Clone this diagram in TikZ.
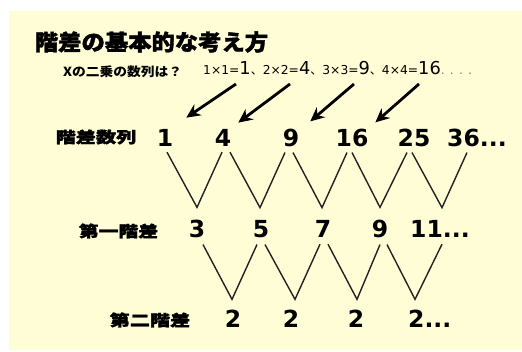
\documentclass[tikz,border=0pt]{standalone}
\usepackage{fontspec}
\usepackage{graphicx}
\newfontfamily\cjk{Noto Sans CJK JP}
\newfontfamily\cjkheavy{Noto Sans CJK JP}[BoldFeatures={FakeBold=1.6}]
\newfontfamily\dejavu{DejaVu Sans}
\usetikzlibrary{arrows.meta}
\definecolor{bgyellow}{HTML}{FFFDD6}
\definecolor{linegray}{HTML}{222222}
\newcommand{\resnum}[1]{{\fontsize{17.8}{17.8}\selectfont #1}}
\newcommand{\jten}{{\cjk\fontsize{12}{12}\selectfont 、}}
\begin{document}
\begin{tikzpicture}[x=1pt,y=-1pt,
  titletext/.style={inner sep=0pt,font=\cjkheavy\bfseries\fontsize{22}{22}\selectfont},
  rowlabel/.style={inner sep=0pt,font=\cjkheavy\bfseries\fontsize{15.5}{15.5}\selectfont},
  num/.style={inner sep=0pt,anchor=base,font=\dejavu\bfseries\fontsize{23.5}{23.5}\selectfont},
  numw/.style={num,anchor=base west},
  vline/.style={draw=linegray,line width=1.4pt},
  pointer/.style={draw=black,line width=2.8pt,-{Stealth[length=14pt,width=13pt]}}
]
\useasboundingbox (0,0) rectangle (522,352);
\fill[white] (0,0) rectangle (522,352);
\fill[bgyellow] (9,11) rectangle (522,350);

% title and question
\node[titletext] (title) at (151.5,42) {\scalebox{1.06}[1]{階差の基本的な考え方}};
\node[inner sep=0pt,anchor=base west,font=\cjk\bfseries\fontsize{12.5}{12.5}\selectfont] (question) at (63,77) {\scalebox{1.1}[1]{Xの二乗の数列は？}};
\node[inner sep=0pt,anchor=base west,font=\dejavu\fontsize{12.3}{12.3}\selectfont] (squares) at (203,75)
  {1×1=\resnum{1}\jten 2×2=\resnum{4}\jten 3×3=\resnum{9}\jten 4×4=\resnum{16}{\color{gray}. . . .}};

% row labels
\node[rowlabel] (r1) at (96,137) {\scalebox{1.3}[1]{階差数列}};
\node[rowlabel] (r2) at (118.5,231) {\scalebox{1.28}[1]{第一階差}};
\node[rowlabel] (r3) at (150,320) {\scalebox{1.3}[1]{第二階差}};

% row 1
\node[num] (n1) at (165,147) {1};
\node[num] (n2) at (223,147) {4};
\node[num] (n3) at (291,147) {9};
\node[num] (n4) at (352,147) {16};
\node[num] (n5) at (414,147) {25};
\node[numw] (n6) at (447,147) {36...};
% row 2
\node[num] (d1) at (197,238) {3};
\node[num] (d2) at (261,238) {5};
\node[num] (d3) at (323,238) {7};
\node[num] (d4) at (380,238) {9};
\node[numw] (d5) at (410,238) {11...};
% row 3
\node[num] (e1) at (233,328) {2};
\node[num] (e2) at (291,328) {2};
\node[num] (e3) at (356,328) {2};
\node[numw] (e4) at (408,328) {2...};

% arrows
\coordinate (s1) at (236,84);
\coordinate (s2) at (290,84);
\coordinate (s3) at (354,84);
\coordinate (s4) at (419,84);
\draw[pointer] (s1) -- ([shift={(12.9,-12)}]n1.north east);
\draw[pointer] (s2) -- ([shift={(6.9,-7)}]n2.north east);
\draw[pointer] (s3) -- ([shift={(10.9,-8)}]n3.north east);
\draw[pointer] (s4) -- ([shift={(6.8,-7)}]n4.north east);

% first differences
\draw[vline] ([shift={(2,5)}]n1.south) -- ([shift={(0,-13)}]d1.north) -- ([shift={(-1,5)}]n2.south);
\draw[vline] ([shift={(7,5)}]n2.south) -- ([shift={(-1,-13)}]d2.north) -- ([shift={(-6,5)}]n3.south);
\draw[vline] ([shift={(2,5)}]n3.south) -- ([shift={(-1,-13)}]d3.north) -- ([shift={(-5,5)}]n4.south);
\draw[vline] ([shift={(0,5)}]n4.south) -- ([shift={(0,-13)}]d4.north) -- ([shift={(-7,5)}]n5.south);
\draw[vline] ([shift={(-2,5)}]n5.south) -- ([shift={(32,-13)}]d5.north west) -- ([shift={(20,5)}]n6.south west);

% second differences
\draw[vline] ([shift={(6,6)}]d1.south) -- ([shift={(-1,-11)}]e1.north) -- ([shift={(-4,6)}]d2.south);
\draw[vline] ([shift={(4,6)}]d2.south) -- ([shift={(4,-11)}]e2.north) -- ([shift={(-3,6)}]d3.south);
\draw[vline] ([shift={(5,6)}]d3.south) -- ([shift={(1,-11)}]e3.north) -- ([shift={(0,6)}]d4.south);
\draw[vline] ([shift={(7,6)}]d4.south) -- ([shift={(7,-11)}]e4.north west) -- ([shift={(32,6)}]d5.south west);
\end{tikzpicture}
\end{document}
